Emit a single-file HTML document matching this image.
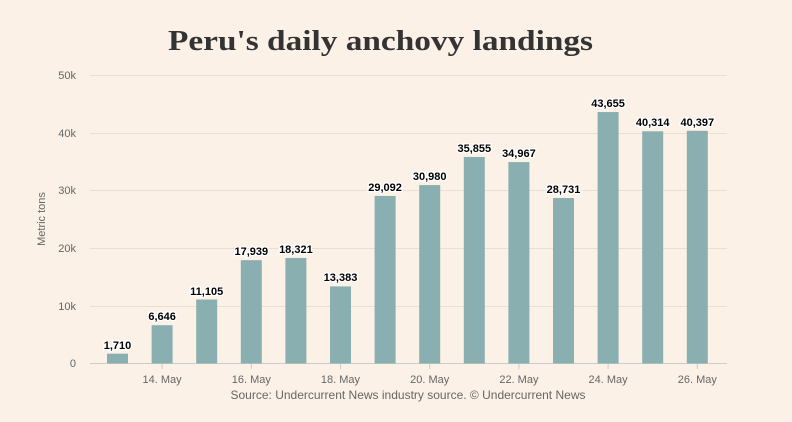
<!DOCTYPE html><html><head><style>body{margin:0;background:#fbf1e7}svg{display:block;font-family:"Liberation Sans",sans-serif}</style></head><body>
<svg width="792" height="422" xmlns="http://www.w3.org/2000/svg">
<rect width="792" height="422" fill="#fbf1e7"/>
<text x="168" y="50" textLength="425" lengthAdjust="spacingAndGlyphs" font-family="Liberation Serif,serif" font-weight="bold" font-size="29" fill="#333">Peru's daily anchovy landings</text>
<g stroke="#eadfd4" stroke-width="1">
<line x1="90" x2="727" y1="75.5" y2="75.5"/><line x1="90" x2="727" y1="133.5" y2="133.5"/><line x1="90" x2="727" y1="190.5" y2="190.5"/><line x1="90" x2="727" y1="248.5" y2="248.5"/><line x1="90" x2="727" y1="306.5" y2="306.5"/>
</g>
<line x1="90" x2="727" y1="363.5" y2="363.5" stroke="#ccc"/>
<g font-size="11" fill="#666" text-anchor="end">
<text x="76" y="79">50k</text><text x="76" y="137">40k</text><text x="76" y="194">30k</text><text x="76" y="252">20k</text><text x="76" y="310">10k</text><text x="76" y="367">0</text>
</g>
<text transform="translate(45,219) rotate(-90)" text-anchor="middle" font-size="11" fill="#666">Metric tons</text>
<g fill="#8aafb0">
<rect x="107" y="353.65" width="21" height="9.85"/>
<rect x="151.6" y="325.22" width="21" height="38.28"/>
<rect x="196.2" y="299.54" width="21" height="63.96"/>
<rect x="240.8" y="260.17" width="21" height="103.33"/>
<rect x="285.4" y="257.97" width="21" height="105.53"/>
<rect x="330" y="286.41" width="21" height="77.09"/>
<rect x="374.6" y="195.93" width="21" height="167.57"/>
<rect x="419.2" y="185.06" width="21" height="178.44"/>
<rect x="463.8" y="156.98" width="21" height="206.52"/>
<rect x="508.4" y="162.09" width="21" height="201.41"/>
<rect x="553" y="198.01" width="21" height="165.49"/>
<rect x="597.6" y="112.05" width="21" height="251.45"/>
<rect x="642.2" y="131.29" width="21" height="232.21"/>
<rect x="686.8" y="130.81" width="21" height="232.69"/>
</g>
<g font-size="11" font-weight="bold" text-anchor="middle" fill="#000" stroke="#fff" stroke-width="2.5" paint-order="stroke">
<text x="117.5" y="349">1,710</text>
<text x="162.1" y="320">6,646</text>
<text x="206.7" y="295">11,105</text>
<text x="251.3" y="255">17,939</text>
<text x="295.9" y="253">18,321</text>
<text x="340.5" y="281">13,383</text>
<text x="385.1" y="191">29,092</text>
<text x="429.7" y="180">30,980</text>
<text x="474.3" y="152">35,855</text>
<text x="518.9" y="157">34,967</text>
<text x="563.5" y="193">28,731</text>
<text x="608.1" y="107">43,655</text>
<text x="652.7" y="126">40,314</text>
<text x="697.3" y="126">40,397</text>
</g>
<g stroke="#ccc">
<line x1="162.1" x2="162.1" y1="363.5" y2="369"/><line x1="251.3" x2="251.3" y1="363.5" y2="369"/><line x1="340.5" x2="340.5" y1="363.5" y2="369"/><line x1="429.7" x2="429.7" y1="363.5" y2="369"/><line x1="518.9" x2="518.9" y1="363.5" y2="369"/><line x1="608.1" x2="608.1" y1="363.5" y2="369"/><line x1="697.3" x2="697.3" y1="363.5" y2="369"/>
</g>
<g font-size="11" fill="#666" text-anchor="middle">
<text x="162.1" y="383">14. May</text><text x="251.3" y="383">16. May</text><text x="340.5" y="383">18. May</text><text x="429.7" y="383">20. May</text><text x="518.9" y="383">22. May</text><text x="608.1" y="383">24. May</text><text x="697.3" y="383">26. May</text>
</g>
<text x="408" y="399" text-anchor="middle" font-size="12" fill="#666">Source: Undercurrent News industry source. © Undercurrent News</text>
</svg></body></html>
